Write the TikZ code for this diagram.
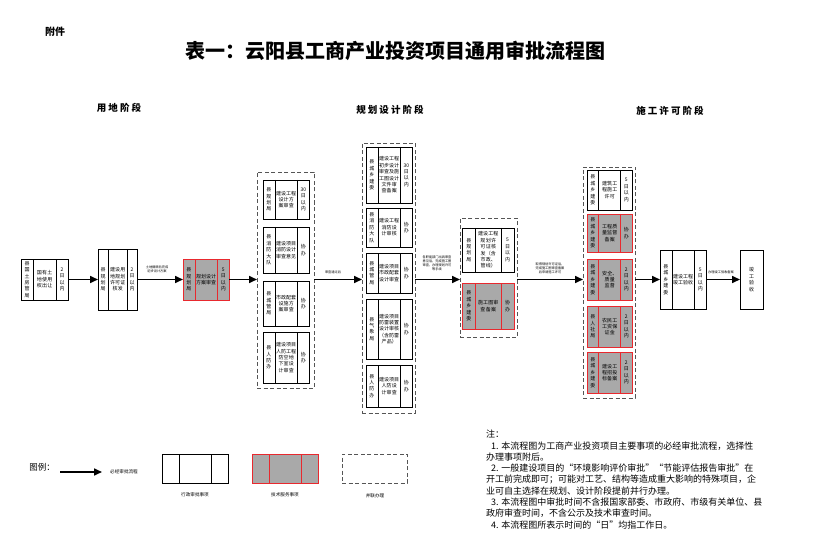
\documentclass[tikz,border=0pt]{standalone}
\usepackage{fontspec}
\setmainfont{Noto Sans CJK SC}
\newfontfamily\phasefont[LetterSpace=22]{Noto Sans CJK SC}
\usetikzlibrary{arrows.meta,calc}
\XeTeXlinebreaklocale "zh"
\XeTeXlinebreakskip=0pt plus 1pt
\definecolor{boxred}{HTML}{E8292E}
\definecolor{boxgray}{HTML}{A9A9A9}
\definecolor{dashgray}{HTML}{555555}
\tikzset{
  wbox/.style={draw=black, line width=0.7pt, fill=white, inner sep=0pt, outer sep=0pt},
  gbox/.style={draw=boxred, line width=0.9pt, fill=boxgray, inner sep=0pt, outer sep=0pt},
  wline/.style={draw=black, line width=0.7pt},
  gline/.style={draw=boxred, line width=0.9pt},
  grp/.style={draw=dashgray, line width=0.8pt, dash pattern=on 4pt off 2.5pt, inner sep=0pt, outer sep=0pt},
  coltext/.style={inner sep=0pt, align=center, font=\fontsize{5}{6.4}\selectfont},
  flow/.style={line width=1.6pt, -{Triangle[length=8pt,width=7pt]}},
  lbl/.style={inner sep=0pt, align=center, font=\fontsize{3.2}{4}\selectfont},
  legtext/.style={inner sep=0pt, font=\fontsize{4.6}{5.5}\selectfont},
}
\newcommand{\abox}[9]{%
  \pgfmathsetmacro{\bw}{#5-#3}%
  \pgfmathsetmacro{\bh}{#6-#4}%
  \pgfmathsetmacro{\mw}{\bw*0.49-2.5}%
  \node[#2box, minimum width=\bw pt, minimum height=\bh pt] (#1) at ({(#3+#5)/2},{(#4+#6)/2}) {};
  \draw[#2line] ($(#1.north west)!0.26!(#1.north east)$) -- ($(#1.south west)!0.26!(#1.south east)$);
  \draw[#2line] ($(#1.north west)!0.75!(#1.north east)$) -- ($(#1.south west)!0.75!(#1.south east)$);
  \node[coltext, text width=5.2pt] (#1-l) at ($(#1.west)!0.13!(#1.east)$) {#7};
  \node[coltext, text width=\mw pt] (#1-m) at ($(#1.west)!0.505!(#1.east)$) {#8};
  \node[coltext, text width=5.2pt] (#1-r) at ($(#1.west)!0.875!(#1.east)$) {#9};
}
\newcommand{\grpbox}[5]{%
  \pgfmathsetmacro{\gw}{#4-#2}%
  \pgfmathsetmacro{\gh}{#5-#3}%
  \node[grp, minimum width=\gw pt, minimum height=\gh pt] (#1) at ({(#2+#4)/2},{(#3+#5)/2}) {};
}
\begin{document}
\begin{tikzpicture}[x=1pt,y=-1pt]
\useasboundingbox (0,0) rectangle (819,548);
\fill[white] (0,0) rectangle (819,548);

% headings
\node[font=\fontsize{10}{12}\selectfont\bfseries, inner sep=0pt] (fujian) at (55,32) {附件};
\node[font=\fontsize{20}{24}\selectfont\bfseries, inner sep=0pt] (title) at (395,51) {表一：云阳县工商产业投资项目通用审批流程图};
\node[font=\fontsize{9.5}{11}\phasefont\bfseries, inner sep=0pt] (ph1) at (119,108) {用地阶段};
\node[font=\fontsize{9.5}{11}\phasefont\bfseries, inner sep=0pt] (ph2) at (390,110) {规划设计阶段};
\node[font=\fontsize{9.5}{11}\phasefont\bfseries, inner sep=0pt] (ph3) at (670,111) {施工许可阶段};

% land stage
\abox{A}{w}{21}{259}{68}{300}{县国土房管局}{国有土地使用权出让}{2日以内}
\abox{B}{w}{98}{249}{137}{310}{县规划局}{建设用地规划许可证核发}{2日以内}
\abox{C}{g}{183}{259}{229}{300}{县规划局}{规划设计方案审查}{5日以内}

% group 1
\grpbox{g1}{257}{172}{314}{388}
\abox{g1a}{w}{263}{180}{309}{219}{县规划局}{建设工程设计方案审查}{30日以内}
\abox{g1b}{w}{263}{227}{309}{273}{县消防大队}{建设项目消防设计审查意见}{协办}
\abox{g1c}{w}{263}{281}{309}{326}{县城管局}{市政配套设施方案审查}{协办}
\abox{g1d}{w}{263}{332}{309}{383}{县人防办}{建设项目人防工程防空地下室设计审查}{协办}

% group 2
\grpbox{g2}{362}{143}{415}{413}
\abox{g2a}{w}{366}{147}{412}{203}{县城乡建委}{建设工程初步设计审查及施工图设计文件审查备案}{30日以内}
\abox{g2b}{w}{366}{208}{412}{247}{县消防大队}{建设工程消防设计审核}{协办}
\abox{g2c}{w}{366}{253}{412}{293}{县城管局}{建设项目市政配套设计审查}{协办}
\abox{g2d}{w}{366}{299}{412}{359}{县气象局}{建设项目防雷装置设计审核（含防雷产品）}{协办}
\abox{g2e}{w}{366}{365}{412}{407}{县人防办}{建设项目人防设计审查}{协办}

% group 3
\grpbox{g3}{460}{218}{517}{337}
\abox{g3a}{w}{462}{228}{514}{272}{县规划局}{建设工程规划许可证核发（含市政、管线）}{5日以内}
\abox{g3b}{g}{462}{283}{514}{329}{县城乡建委}{施工图审查备案}{协办}

% group 4
\grpbox{g4}{583}{167}{635}{398}
\abox{g4a}{w}{587}{170}{632}{210}{县城乡建委}{建筑工程施工许可}{5日以内}
\abox{g4b}{g}{587}{214}{632}{252}{县城乡建委}{工程质量监督备案}{协办}
\abox{g4c}{g}{587}{259}{632}{300}{县城乡建委}{安全、质量监督}{2日以内}
\abox{g4d}{g}{587}{306}{632}{347}{县人社局}{农民工工资保证金}{2日以内}
\abox{g4e}{g}{587}{352}{632}{393}{县城乡建委}{建设工程招投标备案}{2日以内}

% completion
\abox{E}{w}{660}{250}{706}{309}{县城乡建委}{建设工程竣工验收}{5日以内}
\node[wbox, minimum width=23pt, minimum height=59pt] (F) at (751.5,279.5) {};
\node[coltext, text width=5.2pt] (F-t) at (F.center) {竣工验收};

% connectors
\draw[flow] (A.east) -- (B.west |- A.east);
\draw[flow] (B.east |- C.west) -- (C.west);
\draw[flow] (C.east) -- (C.east -| g1.west);
\draw[flow] (g1.east |- C.east) -- (g2.west |- C.east);
\draw[flow] (g2.east |- C.east) -- (g3.west |- C.east);
\draw[flow] (g3.east |- C.east) -- (g4.west |- C.east);
\draw[flow] (g4.east |- E.west) -- (E.west);
\draw[flow] (E.east) -- (F.west);

% connector labels
\node[lbl] (lb1) at (157,269) {土地摘牌后完成\\初步设计方案};
\node[lbl] (lb2) at (333,272) {审查通过后};
\node[lbl] (lb3) at (437,263) {各职能部门出具审查\\意见后，完成施工图\\审查，办理规划许可\\等手续};
\node[lbl] (lb4) at (550,268) {取得规划许可证后，\\完成施工图审查备案\\后申请施工许可};
\node[lbl] (lb5) at (721,272) {办理竣工验收备案};

% legend
\node[font=\fontsize{8.5}{10}\selectfont, inner sep=0pt] (legend) at (42,467) {图例：};
\coordinate (la1) at (60,472);
\coordinate (la2) at (102,472);
\draw[flow] (la1) -- (la2);
\node[legtext] (lt1) at (124,472) {必经审批流程};
\abox{lw}{w}{162}{454}{228}{483}{}{}{}
\node[legtext] (lt2) at (195,495) {行政审批事项};
\abox{lg}{g}{252}{454}{318}{483}{}{}{}
\node[legtext] (lt3) at (285,495) {技术服务事项};
\grpbox{ld}{342}{454}{407}{483}
\node[legtext] (lt4) at (375,496) {并联办理};

% notes
\node[anchor=north west, inner sep=0pt, align=left, font=\fontsize{9}{11.3}\selectfont] (notes) at (486,430) {%
注：\\
\hspace*{5pt}1. 本流程图为工商产业投资项目主要事项的必经审批流程，选择性\\
办理事项附后。\\
\hspace*{5pt}2. 一般建设项目的“环境影响评价审批”“节能评估报告审批”在\\
开工前完成即可；可能对工艺、结构等造成重大影响的特殊项目，企\\
业可自主选择在规划、设计阶段提前并行办理。\\
\hspace*{5pt}3. 本流程图中审批时间不含报国家部委、市政府、市级有关单位、县\\
政府审查时间，不含公示及技术审查时间。\\
\hspace*{5pt}4. 本流程图所表示时间的“日”均指工作日。};
\end{tikzpicture}
\end{document}
